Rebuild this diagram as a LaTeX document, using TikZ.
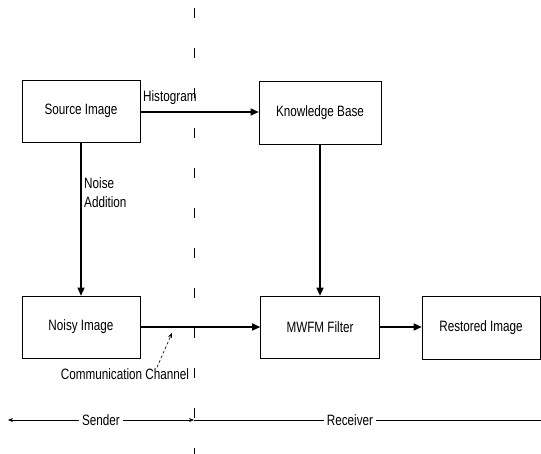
\documentclass[tikz,border=0pt]{standalone}
\usepackage{fontspec}
\setmainfont{Liberation Sans}[FakeStretch=0.78]
\usetikzlibrary{arrows.meta}
\begin{document}
\begin{tikzpicture}[x=1pt,y=-1pt,
  box/.style={draw, line width=0.6pt, minimum width=118pt, minimum height=62pt, inner sep=0pt, font=\fontsize{15}{17}\selectfont},
  lbl/.style={font=\fontsize{15}{19}\selectfont, inner sep=1pt},
  flow/.style={line width=1.3pt, -{Triangle[length=8pt,width=7pt]}},
  thinline/.style={line width=0.7pt}]
\useasboundingbox (0,0) rectangle (541,454);
\node[box] (src) at (81,111) {Source Image};
\node[box, minimum width=122pt, minimum height=63pt] (kb) at (320,112.5) {Knowledge Base};
\node[box] (noisy) at (81,327) {Noisy Image};
\node[box, minimum width=119pt] (mwfm) at (320,327) {MWFM Filter};
\node[box, minimum height=63pt] (rest) at (481,328) {Restored Image};
% divider
\coordinate (dtop) at (194,8);
\coordinate (dbot) at (194,454);
\draw[line width=0.6pt, dash pattern=on 10pt off 30pt] (dtop) -- (dbot);
% connectors
\draw[flow] (src.east |- 0,112) -- (kb.west |- 0,112);
\draw[flow] (src) -- (noisy);
\draw[flow] (kb) -- (mwfm);
\draw[flow] (noisy) -- (mwfm);
\draw[flow] (mwfm.east) -- (rest.west |- mwfm.east);
% labels
\node[lbl, anchor=west] (hist) at (142,98) {Histogram};
\node[lbl, anchor=west, align=left] (noise) at (83,193) {Noise\\Addition};
\node[lbl] (comm) at (125,374) {Communication Channel};
\coordinate (cc) at (172,333);
\draw[line width=0.6pt, densely dashed, -{Stealth[length=5pt,width=4pt]}] (comm.north -| 157,0) -- (cc);
% sender / receiver
\coordinate (sL) at (8,420);
\coordinate (mid) at (194,420);
\coordinate (rR) at (541,420);
\node[lbl, fill=white, inner sep=3pt] (snd) at (101,420) {Sender};
\node[lbl, fill=white, inner sep=3pt] (rcv) at (350,420) {Receiver};
\draw[thinline, -{Stealth[length=5pt,width=4pt]}] (snd) -- (sL);
\draw[thinline, -{Stealth[length=5pt,width=4pt]}] (snd) -- (mid);
\draw[thinline] (mid) -- (rcv);
\draw[thinline] (rcv) -- (rR);
\end{tikzpicture}
\end{document}
